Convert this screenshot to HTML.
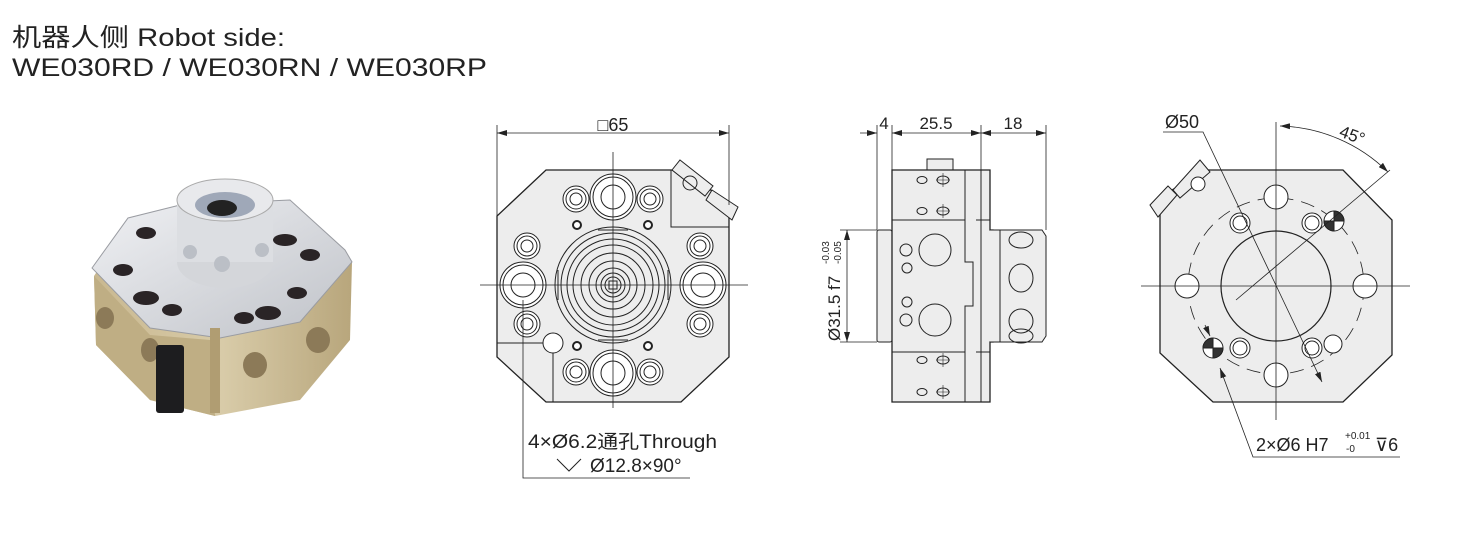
<!DOCTYPE html>
<html><head><meta charset="utf-8"><style>
html,body{margin:0;padding:0;background:#fff;width:1471px;height:549px;overflow:hidden}
svg text{font-family:"Liberation Sans","Noto Sans CJK SC",sans-serif;fill:#222}
</style></head><body>
<svg width="1471" height="549" viewBox="0 0 1471 549" xmlns="http://www.w3.org/2000/svg">
<defs>
<marker id="ar" markerWidth="10" markerHeight="6" refX="10" refY="3" orient="auto-start-reverse" markerUnits="userSpaceOnUse"><path d="M0,0 L10,3 L0,6z" fill="#222"/></marker>
<linearGradient id="gold" x1="0" y1="0" x2="1" y2="0"><stop offset="0" stop-color="#c9b890"/><stop offset="0.5" stop-color="#d8cba8"/><stop offset="1" stop-color="#b8a67c"/></linearGradient>
<linearGradient id="silv" x1="0" y1="0" x2="1" y2="1"><stop offset="0" stop-color="#f0f1f4"/><stop offset="1" stop-color="#bfc2c8"/></linearGradient>
</defs>
<text x="12" y="46" font-size="25" textLength="273" lengthAdjust="spacingAndGlyphs" fill="#333">机器人侧 Robot side:</text>
<text x="12" y="76" font-size="25" textLength="475" lengthAdjust="spacingAndGlyphs" fill="#333">WE030RD / WE030RN / WE030RP</text>

<!-- photo -->
<g>
<path d="M94,276 L130,222 L300,222 L352,262 L350,340 L300,400 L215,416 L150,400 L96,345Z" fill="url(#gold)"/>
<path d="M94,276 L150,335 L210,340 L215,416 L150,400 L96,345Z" fill="#bfae84"/>
<path d="M92,268 L128,218 L180,205 L290,200 L345,250 L352,262 L300,322 L220,338 L150,328Z" fill="url(#silv)" stroke="#9a9ca2" stroke-width="1"/>
<ellipse cx="225" cy="262" rx="48" ry="26" fill="#d4d6da"/>
<rect x="177" y="200" width="96" height="62" fill="#dcdee2"/>
<ellipse cx="225" cy="200" rx="48" ry="21" fill="#e8e9ec" stroke="#aaa"/>
<ellipse cx="225" cy="205" rx="30" ry="13" fill="#9fa8b8"/>
<ellipse cx="222" cy="208" rx="15" ry="8" fill="#222"/>
<g fill="#bbbfc6"><circle cx="190" cy="252" r="7"/><circle cx="222" cy="264" r="8"/><circle cx="262" cy="250" r="7"/></g>
<g fill="#2a2426"><ellipse cx="146" cy="233" rx="10" ry="6"/><ellipse cx="123" cy="270" rx="10" ry="6"/><ellipse cx="146" cy="298" rx="13" ry="7"/><ellipse cx="172" cy="310" rx="10" ry="6"/><ellipse cx="285" cy="240" rx="12" ry="6"/><ellipse cx="310" cy="255" rx="10" ry="6"/><ellipse cx="297" cy="293" rx="10" ry="6"/><ellipse cx="268" cy="313" rx="13" ry="7"/><ellipse cx="244" cy="318" rx="10" ry="6"/></g>
<g fill="#8c7a58"><ellipse cx="105" cy="318" rx="9" ry="11"/><ellipse cx="150" cy="350" rx="9" ry="12"/><ellipse cx="255" cy="365" rx="12" ry="13"/><ellipse cx="318" cy="340" rx="12" ry="13"/></g>
<rect x="156" y="345" width="28" height="68" rx="3" fill="#1d1d1f"/>
<rect x="210" y="328" width="10" height="85" fill="#b09d72"/>
</g>

<g stroke="#222" fill="none" stroke-width="1">
<!-- FRONT VIEW -->
<path d="M546,170 L673,170 L680,165 L729,205 L729,357 L681,402 L546,402 L497,357 L497,216 Z" fill="#ededed" stroke-width="1.3"/>
<path d="M671,170 L671,227 L729,227" />
<path d="M497,343 L553,343 M553,353 L553,402"/>
<path d="M680,160 L713,186 L705,196 L672,170Z M712,190 L738,207 L732,220 L706,200Z" fill="#ededed"/>
<circle cx="690" cy="183" r="7"/>
<g>
<circle cx="613" cy="285" r="58"/><circle cx="613" cy="285" r="52"/><circle cx="613" cy="285" r="46"/><circle cx="613" cy="285" r="40"/><circle cx="613" cy="285" r="32"/><circle cx="613" cy="285" r="24"/><circle cx="613" cy="285" r="17"/><circle cx="613" cy="285" r="12"/><circle cx="613" cy="285" r="8"/><path d="M609,281 h8 v8 h-8z"/>
<path d="M598,230 L628,230 M598,340 L628,340 M558,270 L558,300 M668,270 L668,300"/>
</g>
<g fill="#fff"><circle cx="613" cy="197" r="23"/><circle cx="613" cy="197" r="20"/><circle cx="613" cy="197" r="12"/>
<circle cx="613" cy="373" r="23"/><circle cx="613" cy="373" r="20"/><circle cx="613" cy="373" r="12"/>
<circle cx="523" cy="285" r="23"/><circle cx="523" cy="285" r="20"/><circle cx="523" cy="285" r="12"/>
<circle cx="703" cy="285" r="23"/><circle cx="703" cy="285" r="20"/><circle cx="703" cy="285" r="12"/>
<circle cx="553" cy="343" r="10"/></g>
<g fill="#fff">
<circle cx="576" cy="199" r="13"/><circle cx="576" cy="199" r="10"/><circle cx="576" cy="199" r="6"/>
<circle cx="650" cy="199" r="13"/><circle cx="650" cy="199" r="10"/><circle cx="650" cy="199" r="6"/>
<circle cx="576" cy="372" r="13"/><circle cx="576" cy="372" r="10"/><circle cx="576" cy="372" r="6"/>
<circle cx="650" cy="372" r="13"/><circle cx="650" cy="372" r="10"/><circle cx="650" cy="372" r="6"/>
<circle cx="527" cy="246" r="13"/><circle cx="527" cy="246" r="10"/><circle cx="527" cy="246" r="6"/>
<circle cx="527" cy="324" r="13"/><circle cx="527" cy="324" r="10"/><circle cx="527" cy="324" r="6"/>
<circle cx="700" cy="246" r="13"/><circle cx="700" cy="246" r="10"/><circle cx="700" cy="246" r="6"/>
<circle cx="700" cy="324" r="13"/><circle cx="700" cy="324" r="10"/><circle cx="700" cy="324" r="6"/>
<circle cx="577" cy="225" r="4" stroke-width="2"/><circle cx="648" cy="225" r="4" stroke-width="2"/><circle cx="577" cy="346" r="4" stroke-width="2"/><circle cx="648" cy="346" r="4" stroke-width="2"/>
</g>
<path d="M613,152 V408 M480,285 H748" stroke-width="0.8"/>
<path d="M497,125 V216 M729,125 V205" stroke-width="0.8"/>
<path d="M497,133 H729" marker-start="url(#ar)" marker-end="url(#ar)" stroke-width="0.8"/>
<path d="M523,300 V478 H690" stroke-width="0.8"/>

<!-- SIDE VIEW -->
<rect x="927" y="159" width="26" height="11" fill="#ededed"/>
<rect x="877" y="230" width="15" height="112" rx="2" fill="#ededed"/>
<path d="M892,170 H990 V230 H993 V342 H990 V402 H892 Z" fill="#ededed" stroke-width="1.3"/>
<path d="M892,220 H965 V170 M892,352 H965 V402 M965,220 V262 H973 V306 H965 V352 M981,170 V402 M976,220 H990 M976,352 H990"/>
<path d="M990,230 H1042 L1046,236 V336 L1042,342 H990" fill="#ededed"/>
<path d="M1000,230 V342"/>
<ellipse cx="1021" cy="240" rx="12" ry="8"/><ellipse cx="1021" cy="278" rx="12" ry="14"/><ellipse cx="1021" cy="321" rx="12" ry="12"/><ellipse cx="1021" cy="336" rx="12" ry="7"/>
<circle cx="935" cy="250" r="16"/><circle cx="935" cy="320" r="16"/>
<circle cx="906" cy="250" r="6"/><circle cx="907" cy="268" r="5"/><circle cx="907" cy="302" r="5"/><circle cx="906" cy="320" r="6"/>
<g><ellipse cx="922" cy="180" rx="5" ry="3.5"/><ellipse cx="943" cy="180" rx="6" ry="4"/><ellipse cx="922" cy="211" rx="5" ry="3.5"/><ellipse cx="943" cy="211" rx="6" ry="4"/>
<ellipse cx="922" cy="360" rx="5" ry="3.5"/><ellipse cx="943" cy="360" rx="6" ry="4"/><ellipse cx="922" cy="392" rx="5" ry="3.5"/><ellipse cx="943" cy="392" rx="6" ry="4"/>
<path d="M936,180 h14 M943,173 v14 M936,211 h14 M943,204 v14 M936,360 h14 M943,353 v14 M936,392 h14 M943,385 v14" stroke-width="0.6"/></g>
<path d="M877,125 V230 M892,125 V170 M981,125 V170 M1046,125 V230" stroke-width="0.8"/>
<path d="M860,133 H877" marker-end="url(#ar)" stroke-width="0.8"/>
<path d="M892,133 H981" marker-start="url(#ar)" marker-end="url(#ar)" stroke-width="0.8"/>
<path d="M981,133 H1046" marker-start="url(#ar)" marker-end="url(#ar)" stroke-width="0.8"/>
<path d="M840,230 H877 M840,342 H877" stroke-width="0.8"/>
<path d="M847,230 V342" marker-start="url(#ar)" marker-end="url(#ar)" stroke-width="0.8"/>

<!-- BACK VIEW -->
<path d="M1212,170 L1343,170 L1392,220 L1392,355 L1343,402 L1213,402 L1160,353 L1160,196 L1172,190 L1205,170Z" fill="#ededed" stroke-width="1.3"/>
<path d="M1173,190 L1200,160 L1210,172 L1180,198Z M1150,205 L1168,186 L1177,195 L1158,217Z" fill="#ededed"/>
<circle cx="1198" cy="184" r="7" fill="#fff"/>
<circle cx="1276" cy="286" r="88" stroke-dasharray="14,8" stroke-width="0.8"/>
<circle cx="1276" cy="286" r="55" stroke-width="1.2"/>
<g fill="#fff"><circle cx="1276" cy="197" r="12"/><circle cx="1276" cy="375" r="12"/><circle cx="1187" cy="286" r="12"/><circle cx="1365" cy="286" r="12"/><circle cx="1333" cy="344" r="9"/>
<circle cx="1240" cy="223" r="10"/><circle cx="1240" cy="223" r="7"/><circle cx="1312" cy="223" r="10"/><circle cx="1312" cy="223" r="7"/>
<circle cx="1240" cy="348" r="10"/><circle cx="1240" cy="348" r="7"/><circle cx="1312" cy="348" r="10"/><circle cx="1312" cy="348" r="7"/></g>
<g><circle cx="1334" cy="221" r="10" fill="#fff"/><path d="M1334,221 L1334,211 A10,10 0 0 1 1344,221Z M1334,221 L1334,231 A10,10 0 0 1 1324,221Z" fill="#333"/>
<circle cx="1213" cy="348" r="10" fill="#fff"/><path d="M1213,348 L1223,348 A10,10 0 0 1 1213,358Z M1213,348 L1203,348 A10,10 0 0 1 1213,338Z" fill="#333"/></g>
<path d="M1141,286 H1410 M1276,122 V420" stroke-width="0.8"/>
<path d="M1163,132 H1203 L1322,382" stroke-width="0.8" marker-end="url(#ar)"/>
<path d="M1236,300 L1390,170" stroke-width="0.8"/>
<path d="M1280,126 A160,160 0 0 1 1388,172" stroke-width="0.8" marker-start="url(#ar)" marker-end="url(#ar)"/>
<path d="M1400,457 H1253 L1220,368" stroke-width="0.8" marker-end="url(#ar)"/>
<path d="M1205,325 L1210,336" stroke-width="0.8" marker-end="url(#ar)"/>
</g>

<text x="613" y="131" font-size="18" text-anchor="middle">□65</text>
<text x="528" y="448" font-size="19" textLength="189" lengthAdjust="spacingAndGlyphs">4×Ø6.2通孔Through</text>
<text x="590" y="472" font-size="19">Ø12.8×90°</text>
<path d="M557,459 L569,471 L581,459" stroke="#222" fill="none" stroke-width="1"/>
<text x="884" y="129" font-size="17" text-anchor="middle">4</text>
<text x="936" y="129" font-size="17" text-anchor="middle">25.5</text>
<text x="1013" y="129" font-size="17" text-anchor="middle">18</text>
<text transform="translate(840,341) rotate(-90)" font-size="17">Ø31.5 f7</text>
<text transform="translate(829,264) rotate(-90)" font-size="10">-0.03</text>
<text transform="translate(841,264) rotate(-90)" font-size="10">-0.05</text>
<text x="1165" y="128" font-size="18">Ø50</text>
<text x="1340" y="140" font-size="17" transform="rotate(20 1350 133)">45°</text>
<text x="1256" y="451" font-size="18">2×Ø6 H7</text>
<text x="1345" y="439" font-size="10">+0.01</text>
<text x="1346" y="452" font-size="10">-0</text>
<text x="1375" y="451" font-size="18">⊽6</text>
</svg>
</body></html>
